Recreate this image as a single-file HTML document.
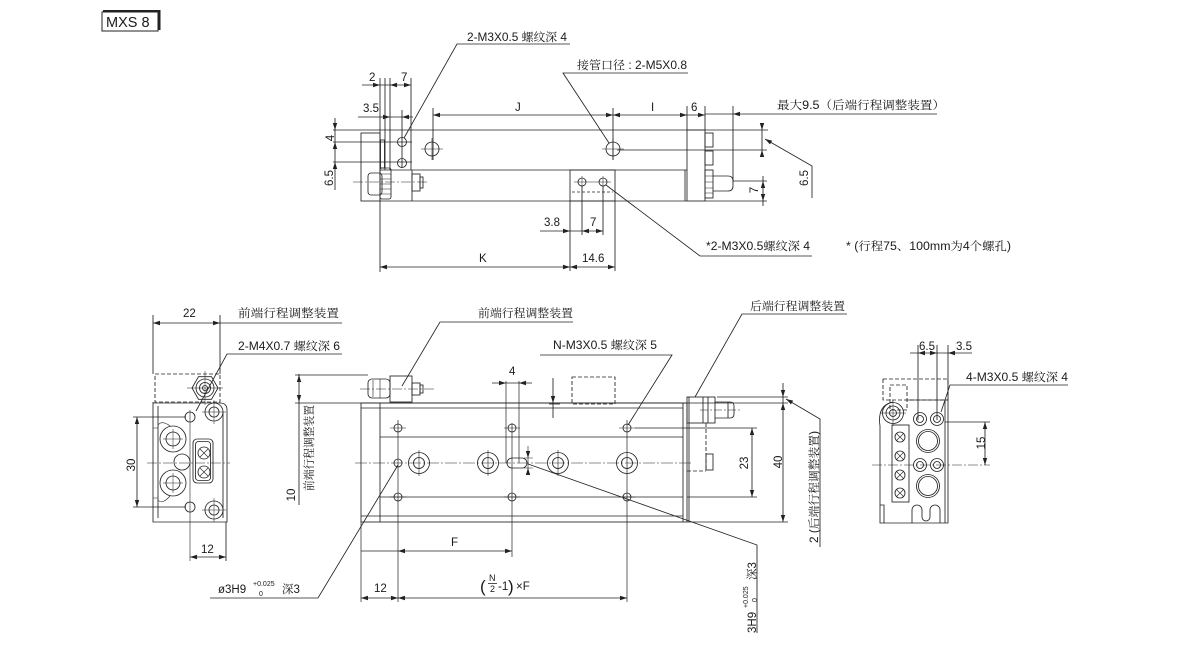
<!DOCTYPE html>
<html><head><meta charset="utf-8">
<style>
html,body{margin:0;padding:0;background:#fff;width:1200px;height:650px;overflow:hidden}
svg{display:block}
text{font-family:"Liberation Sans","Noto Serif CJK SC",sans-serif;font-size:11.5px;fill:#1a1a1a}
</style></head><body>
<svg width="1200" height="650" viewBox="0 0 1200 650" xmlns="http://www.w3.org/2000/svg">
<defs><path id="ar" d="M0,0 L-7,-2.2 L-7,2.2 Z" fill="#222" stroke="none"/></defs>

<!-- MXS 8 -->
<rect x="102" y="12" width="56" height="19" fill="none" stroke="#222" stroke-width="1"/>
<path d="M103,11 H159.5 V30" fill="none" stroke="#222" stroke-width="2"/>
<text x="106" y="27" style="font-size:14.5px">MXS 8</text>

<g stroke="#222" stroke-width="0.85" fill="none">
<!-- ============ TOP VIEW ============ -->
<path d="M570,44 H457 L404,138"/>
<path d="M688,73 H563 L609,143"/>
<path d="M812,256 H700 L606,185"/>
<path d="M937,114 H705"/>
<path d="M380,78 V272 M385,78 V170 M390,78 V170 M411,78 V170 M402,110 V168 M433,108 V160 M613,108 V160 M687,106 V130 M705,106 V130 M733,106 V182"/>
<path d="M362,85 H411 M358,117 H413 M433,115 H705"/>
<path d="M570,201 V271 M615,201 V271 M582,186 V235 M603,186 V235"/>
<path d="M540,231 H603 M380,267 H615"/>
<path d="M333,130 H768 M333,142 H412 M333,162 H412 M617,150 H767 M733,181 H767 M705,201 H767"/>
<path d="M335,118 V190"/>
<path d="M762,124 V156 M763,176 V206"/>
<path d="M765,139 L812,166 V198"/>
<rect x="361" y="133" width="19" height="68"/>
<rect x="380.5" y="140" width="4" height="28"/>
<path d="M380,170 H687 M380,201 H687 M412,170 V201 M685,170 V201"/>
<rect x="368" y="173" width="14" height="22" rx="3"/>
<rect x="380" y="168" width="11" height="31" rx="2"/>
<path d="M380,174 H391 M380,179 H391 M380,184 H391 M380,189 H391 M380,194 H391" stroke-width="0.5"/>
<rect x="412" y="174" width="8" height="17"/>
<rect x="420" y="177" width="3" height="11"/>
<path d="M353,182 H428" stroke-dasharray="10 2 2 2" stroke-width="0.6"/>
<rect x="570" y="170" width="45" height="31"/>
<circle cx="582" cy="182" r="4"/><circle cx="603" cy="182" r="4"/>
<path d="M574,182 H611 M582,176 V188 M603,176 V188" stroke-width="0.5"/>
<path d="M572,192 H613" stroke-dasharray="3 2"/>
<rect x="687" y="130" width="18" height="71"/>
<rect x="705" y="133" width="8" height="14"/>
<rect x="705" y="151" width="8" height="14"/>
<rect x="705" y="170" width="8" height="28"/>
<path d="M705,176 H713 M705,182 H713 M705,188 H713 M705,193 H713" stroke-width="0.5"/>
<path d="M713,176 H728 Q733,176 733,181 V186 Q733,191 728,191 H713"/>
<circle cx="432" cy="149" r="7"/><circle cx="613" cy="149" r="7"/>
<path d="M421,149 H443 M432,138 V160 M602,149 H624 M613,138 V160" stroke-width="0.6"/>
<circle cx="402" cy="142" r="4.5"/><circle cx="402" cy="163" r="4.5"/>

<!-- ============ LEFT END VIEW ============ -->
<path d="M153,315 V374 M220,315 V374"/>
<path d="M153,323 H342"/>
<path d="M342,354 H227 L196,411"/>
<rect x="155" y="374" width="65" height="28" stroke-dasharray="4 2"/>
<polygon points="192,388 198.5,376.7 211.5,376.7 218,388 211.5,399.3 198.5,399.3"/>
<circle cx="205" cy="388" r="9"/><circle cx="205" cy="388" r="5.5"/><circle cx="205" cy="388" r="2.5"/>
<path d="M187,388 H223 M205,371 V405" stroke-width="0.5"/>
<path d="M153,402 V522 H227 V410 Q227,403 220,403 H153"/>
<path d="M158,406 V518 M223,412 V518"/>
<path d="M153,428 H158 M153,498 H158 M158,425 Q162,420 170,426 M158,500 Q162,505 170,496" stroke-width="0.6"/>
<circle cx="190" cy="417" r="5"/><circle cx="190" cy="507" r="5"/>
<circle cx="214" cy="412" r="9"/><circle cx="214" cy="412" r="5"/>
<circle cx="214" cy="510" r="9"/><circle cx="214" cy="510" r="5"/>
<path d="M202,412 H226 M214,400 V424 M202,510 H226 M214,498 V522" stroke-width="0.5"/>
<circle cx="173" cy="439" r="13"/><circle cx="173" cy="439" r="7"/>
<circle cx="173" cy="483" r="13"/><circle cx="173" cy="483" r="7"/>
<path d="M163,439 H183 M173,429 V449 M163,483 H183 M173,473 V493" stroke-width="0.5"/>
<circle cx="182" cy="462" r="8"/>
<rect x="193" y="439" width="20" height="44" rx="4"/>
<rect x="195.5" y="441.5" width="15" height="39" rx="3"/>
<circle cx="204" cy="453" r="6"/><circle cx="204" cy="472" r="6"/>
<path d="M200,449 L208,457 M208,449 L200,457 M200,468 L208,476 M208,468 L200,476" stroke-width="0.6"/>
<path d="M147,463 H230" stroke-dasharray="10 2 2 2" stroke-width="0.6"/>
<path d="M190,410 V561" stroke-width="0.6"/>
<path d="M137,417 V507 M133,417 H186 M133,507 H186"/>
<path d="M190,557 H226 M226,522 V561"/>
<path d="M210,598 H318 L398,465"/>
<path d="M299,374 V505"/>

<!-- ============ MAIN FRONT VIEW ============ -->
<path d="M295,375 H368 M295,403 H687"/>
<rect x="361" y="403" width="326" height="119"/>
<path d="M361,408 H683 M361,516 H683 M380,403 V522 M683,403 V522 M380,437 H683 M380,497 H683"/>
<path d="M361,522 V602 M398,420 V602 M627,420 V602 M512,423 V557 M506,381 V463 M519,381 V463" stroke-width="0.7"/>
<path d="M355,463 H693" stroke-dasharray="12 2 2 2" stroke-width="0.6"/>
<path d="M635,428 H757 M687,497 H757 M717,397 H788 M687,403 H788 M687,522 H788"/>
<path d="M752,428 V497"/>
<path d="M783,383 V522"/>
<path d="M786,399 L820,419 V547"/>
<path d="M528,464 L757,545 V633"/>
<path d="M847,314 H742 L695,397"/>
<path d="M573,322 H440 L402,386"/>
<path d="M540,355 H672 L628,425"/>
<path d="M492,383 H532"/>
<path d="M528,446 V472 M524,458 H533 M524,468 H533" stroke-width="0.6"/>
<rect x="572" y="377" width="43" height="27" stroke-dasharray="4 2"/>
<path d="M553,378 V418 M549,404 H560"/>
<rect x="687" y="397" width="28" height="26"/>
<path d="M703,397 V423 M708,397 V423 M689,397 V522"/>
<path d="M715,402 H730 Q734,402 734,406 V414 Q734,418 730,418 H715 M728,402 V418"/>
<path d="M700,410 H742" stroke-dasharray="8 2 2 2" stroke-width="0.6"/>
<path d="M706,423 V471 M687,471 H706" stroke-dasharray="4 2"/>
<rect x="706" y="454" width="7" height="16"/>
<rect x="368" y="379" width="22" height="19" rx="4"/>
<rect x="390" y="376" width="22" height="26"/>
<rect x="412" y="383" width="8" height="12"/>
<rect x="420" y="385" width="3" height="8"/>
<path d="M380,379 V398 M373,380 V397" stroke-width="0.6"/>
<path d="M360,389 H435" stroke-dasharray="10 2 2 2" stroke-width="0.6"/>
<!-- holes -->
<circle cx="398" cy="428" r="4"/><circle cx="512" cy="428" r="4"/><circle cx="627" cy="428" r="4"/>
<circle cx="398" cy="463" r="4"/>
<circle cx="398" cy="497" r="4"/><circle cx="512" cy="497" r="4"/><circle cx="627" cy="497" r="4"/>
<path d="M390,428 H406 M504,428 H520 M619,428 H635 M390,497 H406 M504,497 H520 M619,497 H635" stroke-width="0.6"/>
<circle cx="419" cy="463" r="10.5"/><circle cx="419" cy="463" r="5.5"/>
<circle cx="488" cy="463" r="10.5"/><circle cx="488" cy="463" r="5.5"/>
<circle cx="558" cy="463" r="10.5"/><circle cx="558" cy="463" r="5.5"/>
<circle cx="627" cy="463" r="10.5"/><circle cx="627" cy="463" r="5.5"/>
<path d="M419,450 V476 M488,450 V476 M558,450 V476" stroke-width="0.6"/>
<rect x="507" y="458" width="20" height="10" rx="5"/>
<path d="M361,551 H398 M398,551 H512 M361,598 H627"/>

<!-- ============ RIGHT END VIEW ============ -->
<path d="M918,345 V420 M937,345 V420 M948,345 V400"/>
<path d="M910,353 H972"/>
<path d="M1068,385 H950 L941,412"/>
<rect x="883" y="379" width="65" height="21" stroke-dasharray="4 2"/>
<rect x="890" y="385" width="17" height="25" stroke-dasharray="4 2"/>
<path d="M907,400 H948 V523 H880 V426 Q877,405 893,402"/>
<path d="M945,400 V523"/>
<path d="M880,505 H884 V523"/>
<circle cx="893" cy="413" r="10.5"/><circle cx="893" cy="413" r="7"/><circle cx="893" cy="413" r="3.5"/>
<path d="M880,413 H906 M893,400 V426" stroke-width="0.5"/>
<rect x="892" y="425" width="17" height="77"/>
<circle cx="900" cy="437" r="5"/><circle cx="900" cy="456" r="5"/><circle cx="900" cy="475" r="5"/><circle cx="900" cy="493" r="5"/>
<path d="M896.5,433.5 L903.5,440.5 M903.5,433.5 L896.5,440.5 M896.5,452.5 L903.5,459.5 M903.5,452.5 L896.5,459.5 M896.5,471.5 L903.5,478.5 M903.5,471.5 L896.5,478.5 M896.5,489.5 L903.5,496.5 M903.5,489.5 L896.5,496.5" stroke-width="0.6"/>
<circle cx="920" cy="419" r="6.5"/><circle cx="937" cy="419" r="6.5"/><circle cx="920" cy="465" r="6.5"/><circle cx="937" cy="465" r="6.5"/>
<circle cx="920" cy="419" r="3.5"/><circle cx="937" cy="419" r="3.5"/><circle cx="920" cy="465" r="3.5"/><circle cx="937" cy="465" r="3.5"/>
<circle cx="928" cy="441" r="11.5"/><circle cx="928" cy="441" r="9.5"/>
<circle cx="928" cy="486" r="11.5"/><circle cx="928" cy="486" r="9.5"/>
<path d="M912,523 V510 a5,5 0 0 1 10,0 V517 a4,4 0 0 0 8,0 V510 a5,5 0 0 1 10,0 V523"/>
<path d="M985,422 V465 M945,422 H990"/>
<path d="M872,465 H990" stroke-dasharray="10 2 2 2" stroke-width="0.6"/>
</g>

<!-- arrows -->
<g>
<use href="#ar" transform="translate(380,85)"/>
<use href="#ar" transform="translate(390,85) rotate(180)"/>
<use href="#ar" transform="translate(411,85)"/>
<use href="#ar" transform="translate(390,117)"/>
<use href="#ar" transform="translate(402,117) rotate(180)"/>
<use href="#ar" transform="translate(433,115) rotate(180)"/>
<use href="#ar" transform="translate(613,115)"/>
<use href="#ar" transform="translate(613,115) rotate(180)"/>
<use href="#ar" transform="translate(687,115)"/>
<use href="#ar" transform="translate(705,115)"/>
<use href="#ar" transform="translate(733,114) rotate(180)"/>
<use href="#ar" transform="translate(335,130) rotate(90)"/>
<use href="#ar" transform="translate(335,142) rotate(-90)"/>
<use href="#ar" transform="translate(335,162) rotate(-90)"/>
<use href="#ar" transform="translate(762,130) rotate(90)"/>
<use href="#ar" transform="translate(762,150) rotate(-90)"/>
<use href="#ar" transform="translate(763,181) rotate(-90)"/>
<use href="#ar" transform="translate(763,201) rotate(90)"/>
<use href="#ar" transform="translate(765,139) rotate(210)"/>
<use href="#ar" transform="translate(570,231)"/>
<use href="#ar" transform="translate(582,231) rotate(180)"/>
<use href="#ar" transform="translate(603,231)"/>
<use href="#ar" transform="translate(380,267) rotate(180)"/>
<use href="#ar" transform="translate(570,267)"/>
<use href="#ar" transform="translate(570,267) rotate(180)"/>
<use href="#ar" transform="translate(615,267)"/>
<!-- left end -->
<use href="#ar" transform="translate(153,323) rotate(180)"/>
<use href="#ar" transform="translate(220,323)"/>
<use href="#ar" transform="translate(137,417) rotate(-90)"/>
<use href="#ar" transform="translate(137,507) rotate(90)"/>
<use href="#ar" transform="translate(190,557) rotate(180)"/>
<use href="#ar" transform="translate(226,557)"/>
<use href="#ar" transform="translate(299,375) rotate(-90)"/>
<use href="#ar" transform="translate(299,402) rotate(90)"/>
<!-- main -->
<use href="#ar" transform="translate(506,383)"/>
<use href="#ar" transform="translate(519,383) rotate(180)"/>
<use href="#ar" transform="translate(528,458) rotate(90)"/>
<use href="#ar" transform="translate(528,468) rotate(-90)"/>
<use href="#ar" transform="translate(553,403) rotate(90)"/>
<use href="#ar" transform="translate(752,428) rotate(-90)"/>
<use href="#ar" transform="translate(752,497) rotate(90)"/>
<use href="#ar" transform="translate(783,397) rotate(90)"/>
<use href="#ar" transform="translate(783,403) rotate(-90)"/>
<use href="#ar" transform="translate(783,522) rotate(90)"/>
<use href="#ar" transform="translate(786,399) rotate(210)"/>
<use href="#ar" transform="translate(398,551) rotate(180)"/>
<use href="#ar" transform="translate(512,551)"/>
<use href="#ar" transform="translate(361,598) rotate(180)"/>
<use href="#ar" transform="translate(398,598)"/>
<use href="#ar" transform="translate(398,598) rotate(180)"/>
<use href="#ar" transform="translate(627,598)"/>
<!-- right end -->
<use href="#ar" transform="translate(918,353) rotate(180)"/>
<use href="#ar" transform="translate(937,353)"/>
<use href="#ar" transform="translate(948,353) rotate(180)"/>
<use href="#ar" transform="translate(985,422) rotate(-90)"/>
<use href="#ar" transform="translate(985,465) rotate(90)"/>
</g>

<!-- ============ TEXT ============ -->
<!-- top view -->
<text x="467" y="41" textLength="100" lengthAdjust="spacingAndGlyphs">2-M3X0.5 螺纹深 4</text>
<text x="577" y="69" textLength="110" lengthAdjust="spacingAndGlyphs">接管口径 : 2-M5X0.8</text>
<text x="369" y="81">2</text>
<text x="401" y="81">7</text>
<text x="363" y="112">3.5</text>
<text x="515" y="111">J</text>
<text x="651" y="111">I</text>
<text x="691" y="111">6</text>
<text x="777" y="109" textLength="168" lengthAdjust="spacingAndGlyphs">最大9.5（后端行程调整装置）</text>
<text transform="translate(334,138) rotate(-90)" text-anchor="middle">4</text>
<text transform="translate(333,178) rotate(-90)" text-anchor="middle">6.5</text>
<text transform="translate(758,190) rotate(-90)" text-anchor="middle">7</text>
<text transform="translate(808,178) rotate(-90)" text-anchor="middle">6.5</text>
<text x="544" y="226">3.8</text>
<text x="590" y="226">7</text>
<text x="479" y="262">K</text>
<text x="582" y="262">14.6</text>
<text x="706" y="250" textLength="104" lengthAdjust="spacingAndGlyphs">*2-M3X0.5螺纹深 4</text>
<text x="846" y="250" textLength="165" lengthAdjust="spacingAndGlyphs">* (行程75、100mm为4个螺孔)</text>

<!-- left end view -->
<text x="183" y="317">22</text>
<text x="238" y="317" textLength="101" lengthAdjust="spacingAndGlyphs">前端行程调整装置</text>
<text x="238" y="350" textLength="102" lengthAdjust="spacingAndGlyphs">2-M4X0.7 螺纹深 6</text>
<text transform="translate(135,465) rotate(-90)" text-anchor="middle">30</text>
<text x="201" y="553">12</text>
<text x="218" y="593">ø3H9</text>
<text x="253" y="586" style="font-size:7px">+0.025</text>
<text x="259" y="596" style="font-size:7px">0</text>
<text x="282" y="593">深3</text>
<text transform="translate(295,495) rotate(-90)" text-anchor="middle">10</text>
<text transform="translate(313,448) rotate(-90)" text-anchor="middle" textLength="86" lengthAdjust="spacingAndGlyphs">前端行程调整装置</text>

<!-- main view -->
<text x="478" y="317" textLength="95" lengthAdjust="spacingAndGlyphs">前端行程调整装置</text>
<text x="553" y="349" textLength="104" lengthAdjust="spacingAndGlyphs">N-M3X0.5 螺纹深 5</text>
<text x="750" y="310" textLength="95" lengthAdjust="spacingAndGlyphs">后端行程调整装置</text>
<text x="509" y="375">4</text>
<text x="451" y="546">F</text>
<text x="374" y="592">12</text>
<text x="480" y="592" style="font-size:17px">(</text>
<text x="489" y="581" style="font-size:9px">N</text>
<line x1="488" y1="583.5" x2="497" y2="583.5" stroke="#222" stroke-width="0.8"/>
<text x="490" y="592" style="font-size:9px">2</text>
<text x="498" y="590">-1</text>
<text x="508" y="592" style="font-size:17px">)</text>
<text x="516" y="590">×F</text>
<text transform="translate(748,463) rotate(-90)" text-anchor="middle">23</text>
<text transform="translate(782,462) rotate(-90)" text-anchor="middle">40</text>
<text transform="translate(818,487) rotate(-90)" text-anchor="middle" textLength="112" lengthAdjust="spacingAndGlyphs">2 (后端行程调整装置)</text>
<g transform="translate(756,633) rotate(-90)">
<text x="0" y="0">3H9</text>
<text x="25" y="-8" style="font-size:7px">+0.025</text>
<text x="31" y="1" style="font-size:7px">0</text>
<text x="53" y="0">深3</text>
</g>

<!-- right end view -->
<text x="919" y="350">6.5</text>
<text x="956" y="350">3.5</text>
<text x="966" y="381" textLength="102" lengthAdjust="spacingAndGlyphs">4-M3X0.5 螺纹深 4</text>
<text transform="translate(985,443) rotate(-90)" text-anchor="middle">15</text>
</svg>
</body></html>
